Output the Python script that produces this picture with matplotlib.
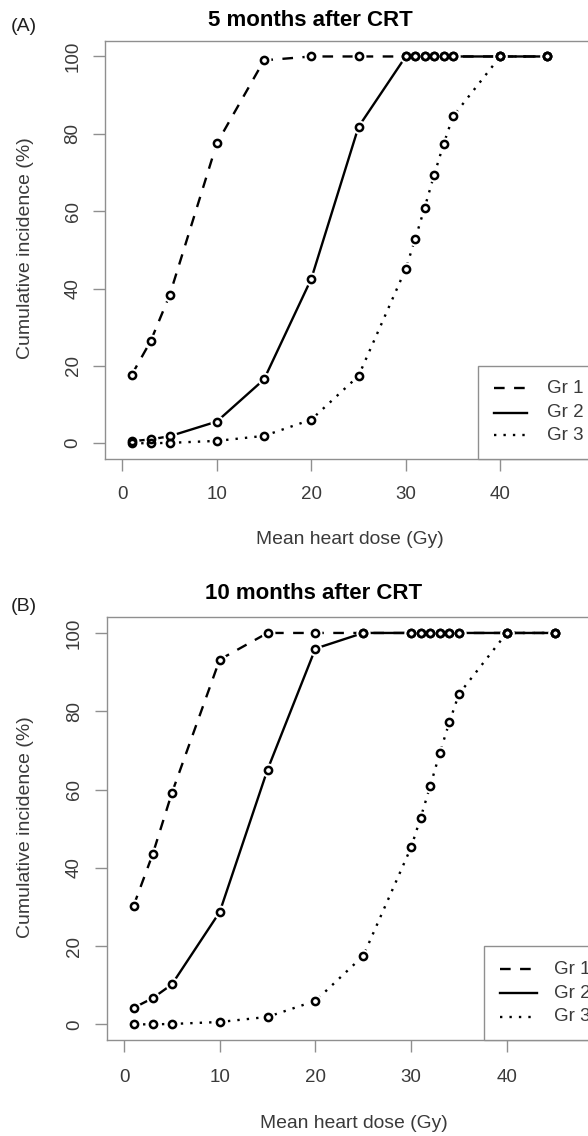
import matplotlib
matplotlib.use("Agg")
import matplotlib.pyplot as plt
from matplotlib.patches import Rectangle
from matplotlib.lines import Line2D

plt.rcParams['font.family'] = ['Liberation Sans', 'DejaVu Sans']

# ---------------- data ----------------
dose = [1, 3, 5, 10, 15, 20, 25, 30, 31, 32, 33, 34, 35, 40, 45]
groups = ["Gr 1", "Gr 2", "Gr 3"]

gr1_5m = [17.7, 26.4, 38.2, 77.5, 99.0, 100, 100, 100, 100, 100, 100, 100, 100, 100, 100]
gr2_5m = [0.5, 1.0, 1.8, 5.6, 16.5, 42.5, 81.8, 100, 100, 100, 100, 100, 100, 100, 100]
gr3_5m = [0.0, 0.0, 0.1, 0.6, 1.9, 6.1, 17.4, 45.1, 52.8, 60.9, 69.3, 77.3, 84.5, 100, 100]

gr1_10m = [30.3, 43.5, 59.1, 93.2, 100, 100, 100, 100, 100, 100, 100, 100, 100, 100, 100]
gr2_10m = [4.2, 6.7, 10.2, 28.7, 65.1, 96.0, 100, 100, 100, 100, 100, 100, 100, 100, 100]
gr3_10m = [0.0, 0.0, 0.1, 0.6, 1.9, 6.0, 17.5, 45.2, 52.8, 60.9, 69.3, 77.2, 84.4, 100, 100]

titles = ["5 months after CRT", "10 months after CRT"]
panel_tags = ["(A)", "(B)"]
xlabel = "Mean heart dose (Gy)"
ylabel = "Cumulative incidence (%)"
xticks = [0, 10, 20, 30, 40]
yticks = [0, 20, 40, 60, 80, 100]

# ---------------- layout helpers ----------------
W, H = 588, 1136
fig = plt.figure(figsize=(W / 100, H / 100), dpi=100)


def fx(px):
    return px / W


def fy(py):
    return 1 - py / H


FRAME = '#8f8f8f'
TXT = '#3a3a3a'
styles = [(0, (4.5, 4.0)), '-', (0, (1, 3))]

panels = [
    dict(series=[gr1_5m, gr2_5m, gr3_5m], left=105.3, right=613.6, top=41, bottom=458.7,
         title_xy=(310, 26), tag_xy=(11, 31), xl_xy=(349.5, 540), yl_xy=(26, 248),
         leg_left=478.3, leg_top=365.7, leg_line=(494, 526.7), leg_text=546.7,
         leg_rows=[388.3, 412.7, 435.0], xpad=11.0),
    dict(series=[gr1_10m, gr2_10m, gr3_10m], left=106.8, right=621.6, top=617.3, bottom=1040,
         title_xy=(314, 599.3), tag_xy=(11, 611), xl_xy=(354, 1124), yl_xy=(26, 827),
         leg_left=484, leg_top=945.7, leg_line=(500, 537.3), leg_text=554,
         leg_rows=[969.3, 993.3, 1016.7], xpad=12.0),
]

for i, p in enumerate(panels):
    ax = fig.add_axes([fx(p['left']), fy(p['bottom']),
                       (p['right'] - p['left']) / W, (p['bottom'] - p['top']) / H])
    ax.set_xlim(-1.8, 52)
    ax.set_ylim(-4, 104)
    for s, ys in enumerate(p['series']):
        ax.plot(dose, ys, color='black', lw=1.7, linestyle=styles[s], zorder=2,
                dash_capstyle='butt')
    for ys in p['series']:
        ax.plot(dose, ys, linestyle='none', marker='o', ms=10.0, mfc='white', mec='none', zorder=3)
    for ys in p['series']:
        ax.plot(dose, ys, linestyle='none', marker='o', ms=5.2, mfc='none', mec='black',
                mew=1.8, zorder=4)

    ax.set_xticks(xticks)
    ax.set_yticks(yticks)
    ax.set_yticklabels([str(v) for v in yticks], rotation=90, va='center')
    ax.tick_params(axis='both', length=8.6, width=1.0, color=FRAME, labelcolor=TXT,
                   labelsize=13.5)
    ax.tick_params(axis='y', pad=8.5)
    ax.tick_params(axis='x', pad=p['xpad'])
    for sp in ax.spines.values():
        sp.set_color(FRAME)
        sp.set_linewidth(1.0)

    fig.text(fx(p['title_xy'][0]), fy(p['title_xy'][1]), titles[i], ha='center',
             va='baseline', fontsize=16, fontweight='bold', color='black')
    fig.text(fx(p['tag_xy'][0]), fy(p['tag_xy'][1]), panel_tags[i], ha='left',
             va='baseline', fontsize=14, color='#202020')
    fig.text(fx(p['xl_xy'][0]), fy(p['xl_xy'][1]), xlabel, ha='center', va='center',
             fontsize=13.9, color=TXT)
    fig.text(fx(p['yl_xy'][0]), fy(p['yl_xy'][1]), ylabel, ha='center', va='center',
             rotation=90, fontsize=14, color=TXT)

    # legend (bottom right, box extends past the cropped edge)
    rect = Rectangle((fx(p['leg_left']), fy(p['bottom'])), fx(p['right'] - p['leg_left']),
                     (p['bottom'] - p['leg_top']) / H, transform=fig.transFigure,
                     facecolor='white', edgecolor=FRAME, lw=1.0, zorder=5)
    fig.add_artist(rect)
    for s, name in enumerate(groups):
        yy = fy(p['leg_rows'][s])
        fig.add_artist(Line2D([fx(p['leg_line'][0]), fx(p['leg_line'][1])], [yy, yy],
                              transform=fig.transFigure, color='black', lw=1.7,
                              linestyle=styles[s], dash_capstyle='butt', zorder=6))
        fig.text(fx(p['leg_text']), yy, name, ha='left', va='center', fontsize=13.5,
                 color=TXT, zorder=6)

fig.savefig("out.png", dpi=100)
